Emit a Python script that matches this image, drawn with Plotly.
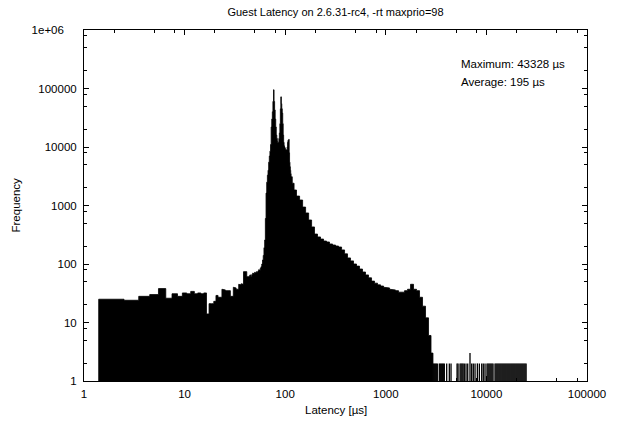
import plotly.graph_objects as go

# ---- data ----
# histogram bins (latency in microseconds) and their counts
latency_us = list(range(2, 116)) + [
    120, 125, 134, 144, 154, 165, 177, 189, 202, 217, 232, 249, 266, 285, 306,
    327, 351, 376, 402, 431, 461, 494, 529, 567, 607, 650, 697, 746, 799, 856,
    917, 982, 1052, 1127, 1207, 1292, 1384, 1483, 1588, 1701, 1822, 1951, 2090,
    2238, 2397, 2567, 2750, 2879]
frequency = [
    25, 24, 28, 30, 38, 26, 31, 28, 32, 31, 34, 31, 32, 31, 32, 14, 21, 21, 23,
    29, 27, 27, 37, 36, 35, 34, 35, 28, 28, 40, 39, 37, 37, 45, 44, 46, 45, 74,
    72, 74, 61, 60, 62, 65, 62, 66, 70, 68, 72, 70, 74, 72, 76, 80, 78, 85, 90,
    100, 117, 140, 190, 257,
    600, 1630, 2500, 3300, 4000, 5500, 7000, 8500, 11000, 22000, 30000, 40000,
    60000, 95000, 60000, 43000, 30000, 22000, 16000, 14000, 12500, 11700, 12000,
    14000, 17400, 25000, 45000, 72000, 55000, 45000, 38000, 25000, 16000, 12000,
    10500, 10000, 9500, 9200, 9000, 8900, 8900, 10000, 12000, 13000, 13000,
    13500, 8000, 5500, 4600, 4000, 3500, 3100,
    2400, 1840, 1450, 1240, 940, 745, 565, 430, 325, 290, 267, 247, 238, 220,
    211, 203, 195, 174, 149, 127, 113, 100, 92, 82, 73, 65, 58, 51, 47, 44, 42,
    40, 39, 37, 36, 35, 33, 33, 35, 37, 45, 37, 35, 27, 19, 12, 6, 3]

# sparse outliers beyond the main body (drawn as thin spikes)
spike_latency_us = [
    2966, 3035, 3105, 3177, 3251, 3403, 3482, 3563, 3646, 3730, 3817, 4030,
    4280, 4450, 5110, 5228, 5474, 5601, 5731, 5864, 6030, 6270, 6520, 6870,
    7140, 7410, 7710, 8130, 8510, 8980, 9310, 9690,
    10140, 10375, 10616, 10863, 11115, 11373, 11637, 12183, 12466, 12755,
    13051, 13354, 13664, 13981, 14306, 14638, 14978, 15325, 15681, 16045,
    16417, 16798, 17188, 17587, 17995, 18413, 18840, 19277, 19725, 20183,
    20651, 21130, 21620, 22122, 22635, 23161, 23698, 24248, 24810]
spike_frequency = [3 if v == 6870 else 2 for v in spike_latency_us]

x_tick_vals = [1, 10, 100, 1000, 10000, 100000]
x_tick_text = ["1", "10", "100", "1000", "10000", "100000"]
y_tick_vals = [1, 10, 100, 1000, 10000, 100000, 1000000]
y_tick_text = ["1", "10", "100", "1000", "10000", "100000",
               "1e+06\u00a0\u00a0\u00a0\u00a0"]
minor_mult = [2, 5, 8]

title_text = "Guest Latency on 2.6.31-rc4, -rt maxprio=98"
x_title = "Latency [µs]"
y_title = "Frequency"
stats_lines = ["Maximum: 43328 µs", "Average: 195 µs"]

# ---- build step outline of the histogram from bin centres ----
edges = [latency_us[0] - 0.6]
for a, b in zip(latency_us[:-1], latency_us[1:]):
    edges.append((a + b) / 2)
edges.append(latency_us[-1] + (latency_us[-1] - latency_us[-2]) / 2)

px, py = [edges[0]], [1]
for i, f in enumerate(frequency):
    px += [edges[i], edges[i + 1]]
    py += [f, f]
px.append(edges[-1])
py.append(1)

sx, sy = [], []
for v, f in zip(spike_latency_us, spike_frequency):
    sx += [v, v, None]
    sy += [1, f, None]

fig = go.Figure()
fig.add_trace(go.Scatter(x=px, y=py, mode="lines", fill="toself",
                         fillcolor="black", line=dict(color="black", width=0.8),
                         hoverinfo="skip", showlegend=False))
fig.add_trace(go.Scatter(x=sx, y=sy, mode="lines",
                         line=dict(color="black", width=1.3),
                         hoverinfo="skip", showlegend=False))

font_family = "Liberation Sans, Arial, sans-serif"
fs = 11.5
minor_x = [m * 10 ** d for d in range(0, 5) for m in minor_mult]
minor_y = [m * 10 ** d for d in range(0, 6) for m in minor_mult]

axis_common = dict(type="log", showgrid=False, zeroline=False, showline=True,
                   linecolor="black", linewidth=1, mirror="allticks",
                   ticks="inside", ticklen=5, tickwidth=1, tickcolor="black",
                   tickfont=dict(family=font_family, size=fs, color="black"))
fig.update_xaxes(range=[0, 5], tickmode="array", tickvals=x_tick_vals,
                 ticktext=x_tick_text, ticklabelstandoff=2,
                 minor=dict(tickmode="array", tickvals=minor_x, ticks="inside",
                            ticklen=3, tickcolor="black", tickwidth=1),
                 **axis_common)
fig.update_yaxes(range=[0, 6], tickmode="array", tickvals=y_tick_vals,
                 ticktext=y_tick_text, ticklabelstandoff=4,
                 minor=dict(tickmode="array", tickvals=minor_y, ticks="inside",
                            ticklen=3, tickcolor="black", tickwidth=1),
                 **axis_common)

W, H = 619, 421
L, R, T, B = 84, 32, 30, 40
pw, ph = W - L - R, H - T - B

annotations = [
    dict(text=y_title, xref="paper", yref="paper", x=(15 - L) / pw, y=0.5,
         textangle=-90, showarrow=False, xanchor="center", yanchor="middle",
         font=dict(family=font_family, size=fs, color="black")),
    dict(text=x_title, xref="paper", yref="paper", x=0.5,
         y=-(410 - (T + ph)) / ph, showarrow=False, xanchor="center",
         yanchor="middle", font=dict(family=font_family, size=fs, color="black")),
]
for i, line in enumerate(stats_lines):
    yy = 64 + 18 * i
    annotations.append(dict(text=line, xref="paper", yref="paper",
                            x=(459 - L) / pw, y=((T + ph) - yy) / ph,
                            showarrow=False, xanchor="left", yanchor="middle",
                            font=dict(family=font_family, size=fs, color="black")))

fig.update_layout(
    width=W, height=H, margin=dict(l=L, r=R, t=T, b=B),
    paper_bgcolor="white", plot_bgcolor="white",
    title=dict(text=title_text, xref="paper", x=0.5, xanchor="center",
               yref="container", y=1 - 12 / H, yanchor="middle",
               font=dict(family=font_family, size=11, color="black")),
    annotations=annotations, showlegend=False,
)

fig.write_html("out.html")
